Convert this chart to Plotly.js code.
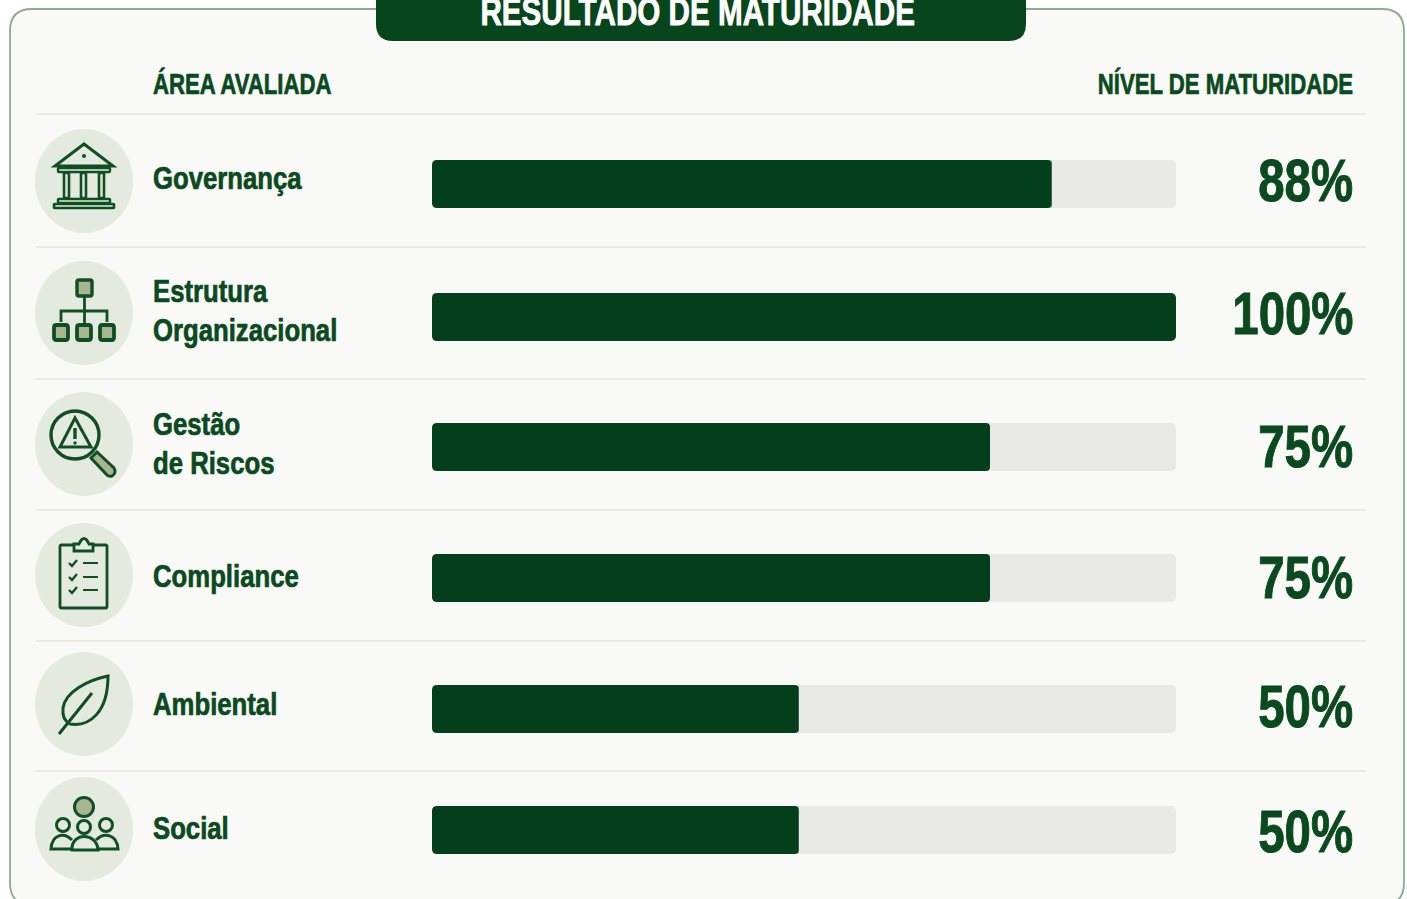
<!DOCTYPE html>
<html><head><meta charset="utf-8">
<script src="https://cdn.plot.ly/plotly-3.0.1.min.js"></script>
<style>html,body{margin:0;padding:0;background:#fff;overflow:hidden}#c{width:1407px;height:899px}</style>
</head><body><div id="c"></div>
<script>
// Data
const categories = ['Governança','Estrutura Organizacional','Gestão de Riscos','Compliance','Ambiental','Social'];
const categoryLines = [['Governança'],['Estrutura','Organizacional'],['Gestão','de Riscos'],['Compliance'],['Ambiental'],['Social']];
const valueLabels = ['88%','100%','75%','75%','50%','50%'];
const barLengths = [83.3,100,75,75,49.3,49.3];
const trackLength = [100,100,100,100,100,100];
const titleText = 'RESULTADO DE MATURIDADE';
const leftHeader = 'ÁREA AVALIADA';
const rightHeader = 'NÍVEL DE MATURIDADE';

// Styling / layout
const W=1407,H=899;
const rowCenters=[184,317,447,578,709,830];
const labelCenters=[178,311,444,576,704,828];
const iconCenters=[181,313,444,575,704,829];
const valueCenters=[180,313,446,577,706,831];
const separators=[114,247,379,510,641,771];
const BAR_H=48, BAR_L=432, BAR_R=1176;
const DARK='#033f1a', TXT='#0b4a1f', TRACK='#e8e8e6', OLIVE='#a9b490', CIRCLE='#e4eadf', CARD='#f9faf7', LINE='#e3e5e0';
const FONT='"Liberation Sans",sans-serif';

const fx=x=>x/W, fy=y=>1-y/H;
function P(d){
  let i=0;
  return d.replace(/-?\d+(\.\d+)?/g,m=>{const v=parseFloat(m);const r=(i++%2===0)?fx(v):fy(v);return r.toFixed(6);});
}
function rr(x0,y0,x1,y1,r){return `M${x0+r} ${y0}L${x1-r} ${y0}Q${x1} ${y0} ${x1} ${y0+r}L${x1} ${y1-r}Q${x1} ${y1} ${x1-r} ${y1}L${x0+r} ${y1}Q${x0} ${y1} ${x0} ${y1-r}L${x0} ${y0+r}Q${x0} ${y0} ${x0+r} ${y0}Z`;}
const S=[];
function path(d,color,width,fill,layer){S.push({type:'path',xref:'paper',yref:'paper',layer:layer||'below',path:P(d),line:{color:color||'rgba(0,0,0,0)',width:width||0},fillcolor:fill||'rgba(0,0,0,0)'});}
function ell(cx,cy,rx,ry,color,width,fill){S.push({type:'circle',xref:'paper',yref:'paper',layer:'below',x0:fx(cx-rx),x1:fx(cx+rx),y0:fy(cy+ry),y1:fy(cy-ry),line:{color:color||'rgba(0,0,0,0)',width:width||0},fillcolor:fill||'rgba(0,0,0,0)'});}

// Card and header
path(rr(10,9,1404,905,22),'#8fa994',1.8,CARD);
path(rr(376,-30,1026,41,17),null,0,'#07451d');
separators.forEach(y=>path(`M36 ${y}L1366 ${y}`,LINE,1.6));
iconCenters.forEach(y=>ell(84,y,49,52,null,0,CIRCLE));

// Corner masks: left ends of all bars, and the tips of partly filled bars
rowCenters.forEach((c,i)=>{
  const t=c-BAR_H/2, b=c+BAR_H/2, r=5;
  path(`M${BAR_L} ${t}L${BAR_L+r} ${t}Q${BAR_L} ${t} ${BAR_L} ${t+r}Z`,null,0,CARD,'above');
  path(`M${BAR_L} ${b}L${BAR_L+r} ${b}Q${BAR_L} ${b} ${BAR_L} ${b-r}Z`,null,0,CARD,'above');
  if(barLengths[i]<100){
    const e=BAR_L+(BAR_R-BAR_L)*barLengths[i]/100, q=4;
    path(`M${e} ${t}L${e-q} ${t}Q${e} ${t} ${e} ${t+q}Z`,null,0,TRACK,'above');
    path(`M${e} ${b}L${e-q} ${b}Q${e} ${b} ${e} ${b-q}Z`,null,0,TRACK,'above');
  }
});

// Icon: bank
const G='#0f4f22';
path('M84 144L55 166L113 166Z',G,3);
ell(84,156,2,2,null,0,G);
path(rr(58,168,110,172,1),G,2.4);
[[64,69],[81,86],[99,104]].forEach(c=>path(rr(c[0],173,c[1],198,0.5),G,2.6));
path(rr(58,199,110,203,0.5),G,2.4);
path(rr(54,204,114,208,0.5),G,2.6);
// Icon: org chart
path(rr(77,280,92,296,2),G,3.4,OLIVE);
path('M84.5 296L84.5 324M61 322L61 311L107 311L107 322',G,2.8);
[[54,68],[77,91],[100,114]].forEach(c=>path(rr(c[0],325,c[1],340,2.5),G,3.8,OLIVE));
// Icon: risk
ell(75,435,24,24,G,3.4);
path('M75 418L60 447L91 447Z',G,3);
path('M75 428L75 439',G,3.4);
ell(75,443,1.7,1.7,null,0,G);
path('M91 458L97 452L114 468Q117 473 112 476Q108 477 106 474Z',G,3,OLIVE);
// Icon: clipboard
path(rr(60,545,107,608,1.5),G,2.8);
path('M74 551L74 544L79 544Q84 533 89 544L93 544L93 551Z',G,2.8,CIRCLE);
[563,577,590].forEach(y=>{
  path(`M69 ${y}L72 ${y+3}L77 ${y-3}`,G,2.4);
  path(`M83 ${y}L98 ${y}`,G,2);
});
// Icon: leaf
path('M108 676C88 680 65 692 63 708C62 718 66 722 70 724C90 727 108 712 108 676Z',G,3);
path('M59 734L92 693',G,3);
// Icon: people
ell(84,807,9.5,9.5,G,3,OLIVE);
ell(63,825,6.5,6.5,G,3); ell(84,827,6.5,6.5,G,3); ell(106,825,6.5,6.5,G,3);
path('M72 840C64 832 52 834 51 849L72 849',G,3);
path('M96 840C104 832 117 834 118 849L97 849',G,3);
path('M72 850C71 832 97 832 98 850Z',G,3);

// Traces: one row axis per category
const data=[]; const layout={
  width:W,height:H,margin:{l:0,r:0,t:0,b:0},
  paper_bgcolor:'#ffffff',plot_bgcolor:'rgba(0,0,0,0)',
  showlegend:false,barmode:'overlay',
  xaxis:{domain:[BAR_L/W,BAR_R/W],range:[0,100],visible:false,fixedrange:true},
  shapes:S,annotations:[]
};
const squeeze=[];
function note(text,x,y,anchor,size,color,sx,sw){
  layout.annotations.push({xref:'paper',yref:'paper',x:fx(x),y:fy(y),xanchor:anchor,yanchor:'middle',align:anchor,showarrow:false,text:'<b>'+text+'</b>',font:{family:FONT,size,color}});
  squeeze.push({anchor,sx,sw,color});
}
categories.forEach((cat,i)=>{
  const k=i===0?'':String(i+1), ax='y'+k, key='yaxis'+k;
  layout[key]={domain:[fy(rowCenters[i]+BAR_H/2),fy(rowCenters[i]-BAR_H/2)],visible:false,type:'category',range:[-0.5,0.5],anchor:'x',fixedrange:true};
  data.push({type:'bar',orientation:'h',x:[trackLength[i]],y:[cat],yaxis:ax,xaxis:'x',width:1,marker:{color:TRACK,line:{width:0},cornerradius:5},hoverinfo:'skip'});
  data.push({type:'bar',orientation:'h',x:[barLengths[i]],y:[cat],yaxis:ax,xaxis:'x',width:1,marker:{color:DARK,line:{width:0},cornerradius:5},name:cat});
  const lines=categoryLines[i];
  lines.forEach((ln,j)=>note(ln,150.5,labelCenters[i]+(j-(lines.length-1)/2)*39,'left',31,TXT,0.83,0.7));
  note(valueLabels[i],1355,valueCenters[i],'right',60,TXT,0.79,1);
});
note(leftHeader,150.5,84,'left',29,TXT,0.765,0.7);
note(rightHeader,1355,84,'right',29,TXT,0.765,0.7);
note(titleText,697,12,'center',38,'#ffffff',0.78,0.8);

Plotly.newPlot('c',data,layout,{displayModeBar:false,staticPlot:true}).then(gd=>{
  // No condensed face is installed: narrow the real text horizontally around its anchor.
  gd.querySelectorAll('.annotation').forEach(g=>{
    const cfg=squeeze[+g.getAttribute('data-index')];
    const t=g.querySelector('text.annotation-text');
    if(!cfg||!t) return;
    const b=t.getBBox();
    const ax=cfg.anchor==='left'?b.x:cfg.anchor==='right'?b.x+b.width:b.x+b.width/2;
    t.setAttribute('transform',`translate(${ax*(1-cfg.sx)} 0) scale(${cfg.sx} 1)`);
    t.style.stroke=cfg.color;
    t.style.strokeWidth=cfg.sw+'px';
  });
});
</script></body></html>
